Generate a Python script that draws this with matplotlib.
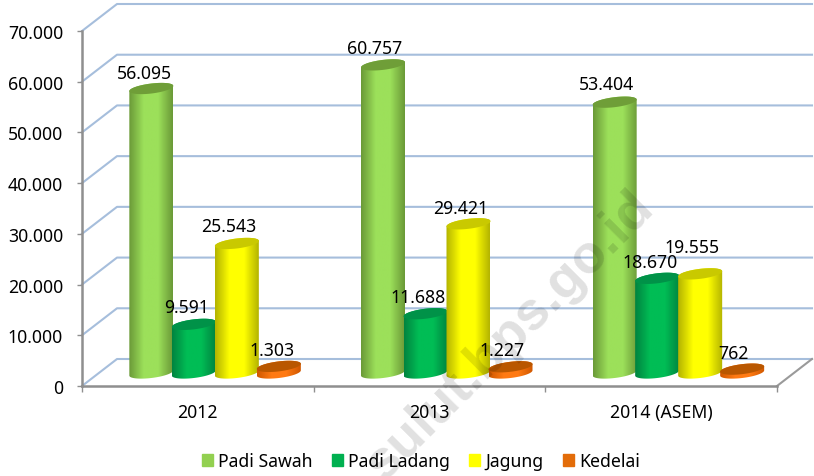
import numpy as np
import matplotlib
matplotlib.use('Agg')
import matplotlib.pyplot as plt
from matplotlib.patches import Patch, PathPatch
from matplotlib.path import Path
from matplotlib.colors import LinearSegmentedColormap

years = ['2012', '2013', '2014 (ASEM)']
padi_sawah = [56095, 60757, 53404]
padi_ladang = [9591, 11688, 18670]
jagung = [25543, 29421, 19555]
kedelai = [1303, 1227, 762]
series_names = ['Padi Sawah', 'Padi Ladang', 'Jagung', 'Kedelai']
y_ticks = [0, 10000, 20000, 30000, 40000, 50000, 60000, 70000]
y_labels = ['0', '10.000', '20.000', '30.000', '40.000', '50.000', '60.000', '70.000']
value_labels = [['56.095', '60.757', '53.404'],
                ['9.591', '11.688', '18.670'],
                ['25.543', '29.421', '19.555'],
                ['1.303', '1.227', '762']]

# edge / middle / lid colours of each cylinder
side_edge = ['#6b9a38', '#008440', '#b4b400', '#d05800']
side_mid = ['#9ce05a', '#00bd55', '#ffff00', '#ff7a12']
lid = ['#6f9e38', '#009248', '#c9c900', '#b95700']
legend_colors = ['#92d050', '#00b050', '#ffff00', '#e36c09']

# label offsets from the lid, in pixels
label_off = [[(-7, 16), (-8, 17), (-8, 18)],
             [(-7, 17), (-7, 17), (-7, 16)],
             [(-8, 17), (-8, 16), (-8, 27)],
             [(-7, 16), (-8, 17), (-9, 16)]]

W, H = 814, 477
FS = 12.7
plt.rcParams['font.family'] = ['Noto Sans', 'DejaVu Sans']
fig = plt.figure(figsize=(W / 100, H / 100), dpi=100)
ax = fig.add_axes([82 / W, 1 - 387 / H, 695 / W, 355 / H])
ax.patch.set_visible(False)

px_x = 3 / 695
px_y = 70000 / 355
depth_x = 35 * px_x
depth_y = 27 * px_y

# back wall
grid_c = '#a6bedc'
for v in y_ticks:
    ax.plot([0, depth_x, 3 + depth_x], [v, v + depth_y, v + depth_y],
            color=grid_c, lw=1.5, clip_on=False, zorder=1)
ax.plot([3, 3 + depth_x], [0, depth_y], color='#9a9a9a', lw=1.5, clip_on=False, zorder=1)

# cylinders
values = [padi_sawah, padi_ladang, jagung, kedelai]
offsets = [-64 * px_x, -21.5 * px_x, 21.5 * px_x, 63.5 * px_x]
bar_w = 44 * px_x
a = bar_w / 2
b = 5 * px_y
tilt = 2.6 * px_y
lift = 13 * px_y
t = np.linspace(0, 2 * np.pi, 90)

centers = np.arange(3) + 0.5 + depth_x / 2
for i, vals in enumerate(values):
    z = 3 + i
    cmap = LinearSegmentedColormap.from_list('c', [side_edge[i], side_mid[i], side_mid[i], side_edge[i]])
    bars = ax.bar(centers + offsets[i], vals, bar_w, bottom=lift, color=side_mid[i],
                  zorder=z, clip_on=False)
    for bar in bars:
        cx = bar.get_x() + a
        y0 = bar.get_y()
        y1 = y0 + bar.get_height()
        # silhouette: lower half of base ellipse, upper half of lid ellipse
        t1 = np.linspace(np.pi, 2 * np.pi, 40)
        t2 = np.linspace(0, np.pi, 40)
        xs = np.r_[cx + a * np.cos(t1), cx + a * np.cos(t2)]
        ys = np.r_[y0 + b * np.sin(t1) + tilt * np.cos(t1),
                   y1 + b * np.sin(t2) + tilt * np.cos(t2)]
        clip = PathPatch(Path(np.c_[xs, ys]), transform=ax.transData, fc='none', ec='none')
        ax.add_patch(clip)
        im = ax.imshow(np.linspace(0, 1, 64)[None, :], cmap=cmap, aspect='auto',
                       extent=[cx - a, cx + a, y0 - 2 * b, y1 + 2 * b],
                       zorder=z + 0.1, interpolation='bilinear')
        im.set_clip_path(clip)
        bar.set_visible(False)
        ax.fill(cx + a * np.cos(t), y1 + b * np.sin(t) + tilt * np.cos(t), color=lid[i],
                lw=0, zorder=z + 0.2, clip_on=False)
ax.set_xlim(0, 3)
ax.set_ylim(0, 70000)

# value labels
for i, vals in enumerate(values):
    for j, v in enumerate(vals):
        ax.annotate(value_labels[i][j], (centers[j] + offsets[i], v + lift),
                    xytext=label_off[i][j], textcoords='offset pixels',
                    ha='center', va='center', fontsize=FS, color='black',
                    zorder=20, annotation_clip=False)

# axes
for s in ['top', 'right']:
    ax.spines[s].set_visible(False)
for s in ['left', 'bottom']:
    ax.spines[s].set_color('#8f8f8f')
    ax.spines[s].set_linewidth(1.8)
    ax.spines[s].set_zorder(2)
ax.set_yticks(y_ticks)
ax.set_yticklabels(y_labels, fontsize=FS)
ax.tick_params(axis='y', length=3.6, width=1, color='#8f8f8f', pad=10)
ax.set_xticks([0, 1, 2, 3], minor=True)
ax.set_xticks([0.5, 1.5, 2.5])
ax.set_xticklabels(years, fontsize=FS)
ax.tick_params(axis='x', which='minor', length=4, width=1, color='#8f8f8f')
ax.tick_params(axis='x', which='major', length=0, pad=12)

handles = [Patch(color=c, label=n) for c, n in zip(legend_colors, series_names)]
fig.legend(handles=handles, loc='center', bbox_to_anchor=(421 / W, 1 - 462 / H), ncol=4,
           frameon=False, fontsize=FS, handlelength=0.62, handleheight=0.62,
           handletextpad=0.3, columnspacing=1.1, borderpad=0)

# watermark across the plot
fig.text(655 / W, 1 - 210 / H, 'sulut.bps.go.id', family='Liberation Sans', fontsize=39,
         fontweight='bold', rotation=45, rotation_mode='anchor', ha='right', va='baseline',
         color='black', alpha=0.12, zorder=30)

fig.savefig('out.png', dpi=100)
